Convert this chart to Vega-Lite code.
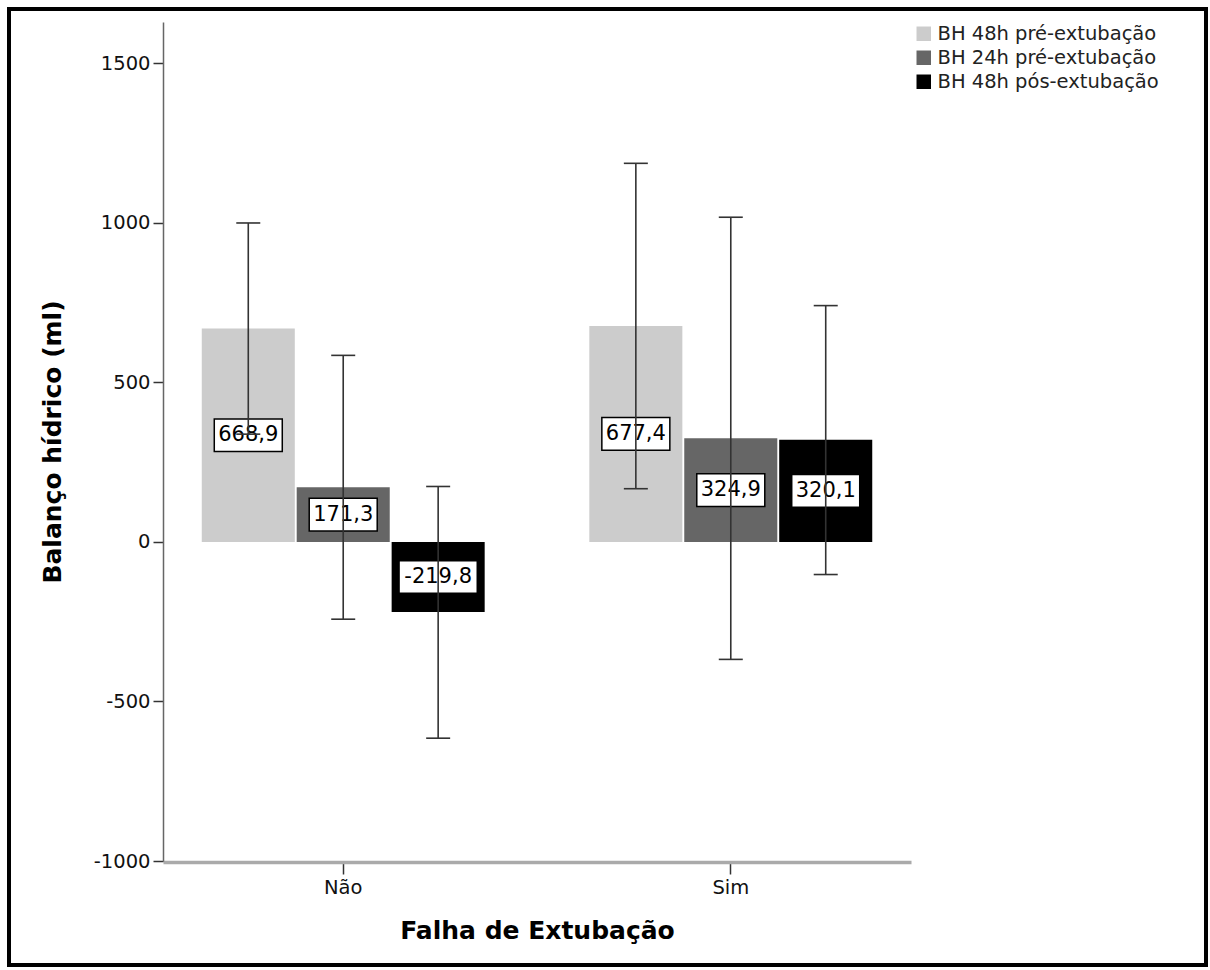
{
  "$schema": "https://vega.github.io/schema/vega-lite/v6.json",
  "width": 1197,
  "height": 956,
  "autosize": {"type": "none"},
  "padding": {"left": 9, "top": 9, "right": 4, "bottom": 5},
  "background": "white",
  "config": {
    "view": {"stroke": "#000", "strokeWidth": 4},
    "font": "DejaVu Sans",
    "locale": {"number": {"decimal": ",", "thousands": ".", "grouping": [3], "currency": ["", ""], "minus": "-"}},
    "axis": {"grid": false, "labelFont": "DejaVu Sans", "titleFont": "DejaVu Sans", "labelColor": "#111", "titleColor": "#000"},
    "axisY": {
      "format": "d",
      "offset": -154, "domainColor": "#666", "domainWidth": 1.5, "tickColor": "#333", "tickWidth": 1.5,
      "tickSize": 10, "labelFontSize": 19.5, "labelPadding": 3, "titleFontSize": 25,
      "titleFontWeight": "bold", "titlePadding": 28, "labelFlush": false, "labelOverlap": false
    }
  },
  "data": {
    "values": [
      {"falha": "Não", "serie": "BH 48h pré-extubação", "mean": 668.9, "lo": 338, "hi": 1000},
      {"falha": "Não", "serie": "BH 24h pré-extubação", "mean": 171.3, "lo": -242, "hi": 585},
      {"falha": "Não", "serie": "BH 48h pós-extubação", "mean": -219.8, "lo": -615, "hi": 174},
      {"falha": "Sim", "serie": "BH 48h pré-extubação", "mean": 677.4, "lo": 167, "hi": 1187},
      {"falha": "Sim", "serie": "BH 24h pré-extubação", "mean": 324.9, "lo": -368, "hi": 1018},
      {"falha": "Sim", "serie": "BH 48h pós-extubação", "mean": 320.1, "lo": -102, "hi": 741}
    ]
  },
  "encoding": {
    "x": {
      "field": "falha", "type": "nominal",
      "scale": {"range": [154, 902], "paddingInner": 0.27, "paddingOuter": 0.1},
      "axis": {
        "title": "Falha de Extubação", "offset": -103, "domainColor": "#aaa", "domainWidth": 3.5,
        "tickColor": "#333", "tickSize": 12, "tickWidth": 1.5, "labelFontSize": 19.5, "labelAngle": 0,
        "labelPadding": 4, "titleFontSize": 25, "titleFontWeight": "bold", "titlePadding": 22
      }
    },
    "xOffset": {
      "field": "serie", "type": "nominal",
      "sort": ["BH 48h pré-extubação", "BH 24h pré-extubação", "BH 48h pós-extubação"],
      "scale": {"paddingInner": 0.02, "paddingOuter": 0}
    }
  },
  "layer": [
    {
      "mark": {"type": "bar"},
      "encoding": {
        "y": {
          "field": "mean", "type": "quantitative", "title": "Balanço hídrico (ml)",
          "scale": {"domain": [-1000, 1630], "range": [852, 13], "nice": false, "zero": false},
          "axis": {"values": [-1000, -500, 0, 500, 1000, 1500]}
        },
        "y2": {"datum": 0},
        "color": {
          "field": "serie", "type": "nominal",
          "scale": {
            "domain": ["BH 48h pré-extubação", "BH 24h pré-extubação", "BH 48h pós-extubação"],
            "range": ["#cccccc", "#666666", "#000000"]
          },
          "legend": {
            "orient": "none", "legendX": 905, "legendY": 15, "title": null, "symbolType": "square",
            "symbolSize": 210, "symbolStrokeWidth": 0, "labelFontSize": 19.5, "labelFont": "DejaVu Sans",
            "labelColor": "#222", "rowPadding": 3, "padding": 0, "labelOffset": 4, "labelLimit": 0
          }
        }
      }
    },
    {
      "transform": [{"calculate": "datum.mean / 2", "as": "mid"}],
      "mark": {
        "type": "point", "filled": true, "fill": "white", "stroke": "black", "strokeWidth": 1.5,
        "opacity": 1, "fillOpacity": 1, "strokeOpacity": 1, "size": 4624
      },
      "encoding": {
        "y": {"field": "mid", "type": "quantitative", "title": "Balanço hídrico (ml)", "axis": {"values": [-1000, -500, 0, 500, 1000, 1500]}},
        "shape": {
          "condition": {"test": "datum.mean < 0", "value": "M-1.15,-0.48H1.15V0.48H-1.15Z"},
          "value": "M-1,-0.48H1V0.48H-1Z"
        }
      }
    },
    {
      "transform": [{"calculate": "datum.mean / 2", "as": "mid"}],
      "mark": {"type": "text", "fontSize": 21, "baseline": "middle", "align": "center", "color": "#000", "font": "DejaVu Sans"},
      "encoding": {
        "y": {"field": "mid", "type": "quantitative", "title": "Balanço hídrico (ml)", "axis": {"values": [-1000, -500, 0, 500, 1000, 1500]}},
        "text": {"field": "mean", "type": "quantitative", "format": ".1f"}
      }
    },
    {
      "mark": {"type": "rule", "color": "#333", "strokeWidth": 1.6},
      "encoding": {
        "y": {"field": "lo", "type": "quantitative", "title": "Balanço hídrico (ml)", "axis": {"values": [-1000, -500, 0, 500, 1000, 1500]}},
        "y2": {"field": "hi"}
      }
    },
    {
      "mark": {"type": "tick", "orient": "horizontal", "size": 24, "thickness": 1.6, "color": "#333", "opacity": 1},
      "encoding": {"y": {"field": "hi", "type": "quantitative", "title": "Balanço hídrico (ml)", "axis": {"values": [-1000, -500, 0, 500, 1000, 1500]}}}
    },
    {
      "mark": {"type": "tick", "orient": "horizontal", "size": 24, "thickness": 1.6, "color": "#333", "opacity": 1},
      "encoding": {"y": {"field": "lo", "type": "quantitative", "title": "Balanço hídrico (ml)", "axis": {"values": [-1000, -500, 0, 500, 1000, 1500]}}}
    }
  ]
}
